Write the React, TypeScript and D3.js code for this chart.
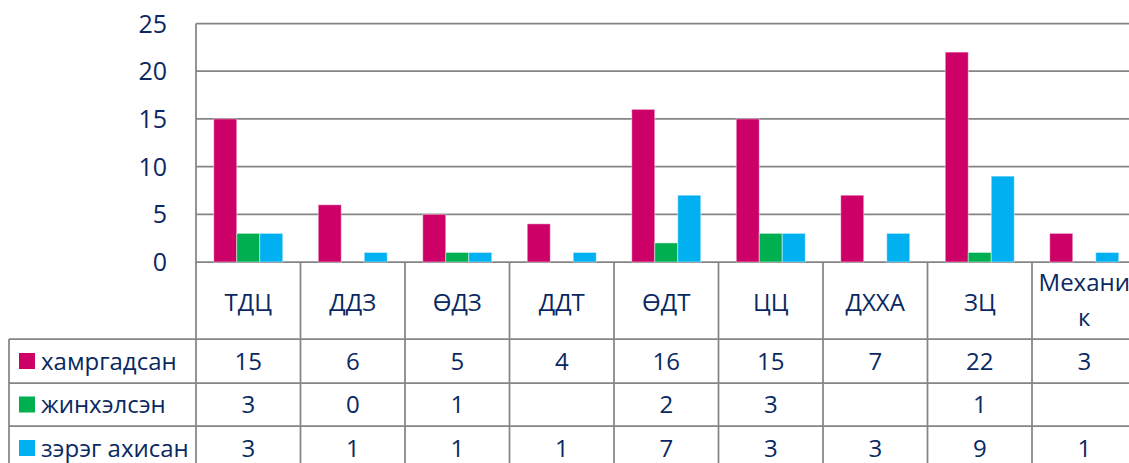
import React from "react";
import * as d3 from "d3";

const categories = ["ТДЦ", "ДДЗ", "ӨДЗ", "ДДТ", "ӨДТ", "ЦЦ", "ДХХА", "ЗЦ", "Механик"];
const categoryLines = [["ТДЦ"], ["ДДЗ"], ["ӨДЗ"], ["ДДТ"], ["ӨДТ"], ["ЦЦ"], ["ДХХА"], ["ЗЦ"], ["Механи", "к"]];
const seriesNames = ["хамргадсан", "жинхэлсэн", "зэрэг ахисан"];
const seriesColors = ["#CC0066", "#00B050", "#00B0F0"];
const hamragdsan: (number | null)[] = [15, 6, 5, 4, 16, 15, 7, 22, 3];
const jinhelsen: (number | null)[] = [3, 0, 1, null, 2, 3, null, 1, null];
const zeregAhisan: (number | null)[] = [3, 1, 1, 1, 7, 3, 3, 9, 1];
const yTicks = [0, 5, 10, 15, 20, 25];

const seriesValues = [hamragdsan, jinhelsen, zeregAhisan];

const W = 1129;
const H = 463;
const plotLeft = 196;
const catW = 104.5;
const plotRight = plotLeft + catW * categories.length;
const plotTop = 23.5;
const zeroY = 262;
const rowYs = [339, 383, 426, 470];
const tableLeft = 9;
const textColor = "#0A2861";
const gridColor = "#858585";
const gridW = 1.75;
const font = "'Open Sans', 'Noto Sans', sans-serif";

export default function App() {
  const x = d3.scaleBand<string>().domain(categories).range([plotLeft, plotRight]);
  const x1 = d3
    .scaleBand<string>()
    .domain(seriesNames)
    .range([17.75, catW - 17.75]);
  const y = d3.scaleLinear().domain([0, 25]).range([zeroY, plotTop]);

  return (
    <svg
      width={W}
      height={H}
      style={{ position: "absolute", left: 0, top: 0, background: "#fff" }}
      fontFamily={font}
    >
      {yTicks.map((t) => (
        <line
          key={"g" + t}
          x1={plotLeft}
          x2={plotRight}
          y1={y(t)}
          y2={y(t)}
          stroke={gridColor}
          strokeWidth={gridW}
        />
      ))}
      {yTicks.map((t) => (
        <text
          key={"yl" + t}
          x={167}
          y={y(t)}
          dy="0.36em"
          textAnchor="end"
          fontSize={25}
          fill={textColor}
        >
          {t}
        </text>
      ))}
      {seriesValues.map((vals, si) =>
        vals.map((v, ci) =>
          v == null || v === 0 ? null : (
            <rect
              key={`b${si}-${ci}`}
              x={(x(categories[ci]) as number) + (x1(seriesNames[si]) as number)}
              y={y(v)}
              width={x1.bandwidth()}
              height={y(0) - y(v)}
              fill={seriesColors[si]}
              stroke="rgba(255,255,255,0.45)"
              strokeWidth={1}
            />
          )
        )
      )}
      <line x1={plotLeft} x2={plotLeft} y1={plotTop} y2={H} stroke={gridColor} strokeWidth={gridW} />
      <line x1={tableLeft} x2={tableLeft} y1={rowYs[0]} y2={H} stroke={gridColor} strokeWidth={gridW} />
      {categories.map((c) => (
        <line
          key={"sep" + c}
          x1={(x(c) as number) + catW}
          x2={(x(c) as number) + catW}
          y1={zeroY}
          y2={H}
          stroke={gridColor}
          strokeWidth={gridW}
        />
      ))}
      {rowYs.slice(0, 3).map((ry) => (
        <line key={"r" + ry} x1={tableLeft} x2={plotRight} y1={ry} y2={ry} stroke={gridColor} strokeWidth={gridW} />
      ))}
      {categories.map((c, i) => {
        const cx = (x(c) as number) + catW / 2;
        const lines = categoryLines[i];
        if (lines.length === 1) {
          return (
            <text key={"cl" + c} x={cx} y={311} textAnchor="middle" fontSize={24} fill={textColor}>
              {lines[0]}
            </text>
          );
        }
        return (
          <text key={"cl" + c} x={cx} textAnchor="middle" fontSize={24} fill={textColor}>
            <tspan x={cx} y={291}>{lines[0]}</tspan>
            <tspan x={cx} y={326}>{lines[1]}</tspan>
          </text>
        );
      })}
      {seriesNames.map((s, si) => {
        const top = rowYs[si];
        const bottom = rowYs[si + 1];
        const cy = (top + bottom) / 2;
        return (
          <g key={"row" + s}>
            <rect x={19} y={cy - 8} width={16} height={16} fill={seriesColors[si]} />
            <text x={41} y={cy} dy="0.36em" fontSize={24} fill={textColor}>
              {s}
            </text>
            {seriesValues[si].map((v, ci) =>
              v == null ? null : (
                <text
                  key={`v${si}-${ci}`}
                  x={(x(categories[ci]) as number) + catW / 2}
                  y={cy}
                  dy="0.36em"
                  textAnchor="middle"
                  fontSize={24}
                  fill={textColor}
                >
                  {v}
                </text>
              )
            )}
          </g>
        );
      })}
    </svg>
  );
}
